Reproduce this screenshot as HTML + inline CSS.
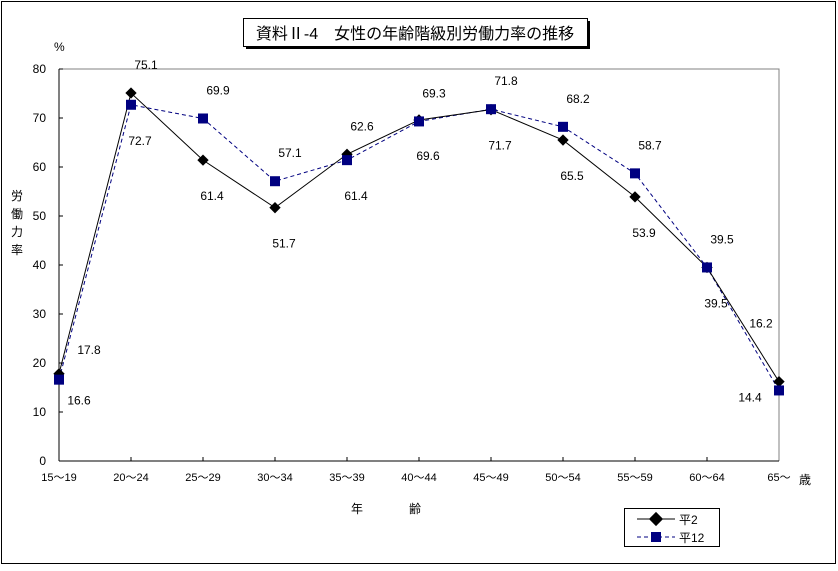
<!DOCTYPE html>
<html><head><meta charset="utf-8"><style>
body{margin:0;background:#fff;}
svg text{font-family:"Liberation Sans","Noto Sans CJK JP",sans-serif;}
</style></head><body>
<svg id="chart" width="838" height="566" xmlns="http://www.w3.org/2000/svg">
<rect x="1.5" y="1.5" width="834" height="562" fill="#fff" stroke="#000" stroke-width="1"/>
<g>
<rect x="246" y="21" width="344" height="28" fill="#000"/>
<rect x="243.5" y="18.5" width="344" height="28" fill="#fff" stroke="#000"/>
<text x="415" y="39" font-size="16" text-anchor="middle">資料Ⅱ-4　女性の年齢階級別労働力率の推移</text>
</g>
<text x="54" y="51" font-size="12">%</text>
<text font-size="12" text-anchor="middle"><tspan x="17" y="200">労</tspan><tspan x="17" y="218">働</tspan><tspan x="17" y="236">力</tspan><tspan x="17" y="254">率</tspan></text>
<text x="351" y="513" font-size="12">年</text>
<text x="409" y="513" font-size="12">齢</text>
<text x="799" y="484" font-size="12">歳</text>
<g id="plot"></g>
<g>
<rect x="624.5" y="508.5" width="95" height="38" fill="#fff" stroke="#000"/>
<line x1="637" y1="519" x2="675" y2="519" stroke="#000"/>
<rect x="651" y="514" width="10" height="10" fill="#000" transform="rotate(45 656 519)"/>
<text x="679" y="524" font-size="12">平2</text>
<line x1="637" y1="537" x2="675" y2="537" stroke="#000080" stroke-dasharray="4,3"/>
<rect x="651" y="532" width="10" height="10" fill="#000080"/>
<text x="679" y="542" font-size="12">平12</text>
</g>
</svg>
<script>
const categories=["15～19","20～24","25～29","30～34","35～39","40～44","45～49","50～54","55～59","60～64","65～"];
const seriesH2=[17.8,75.1,61.4,51.7,62.6,69.6,71.7,65.5,53.9,39.5,16.2];
const seriesH12=[16.6,72.7,69.9,57.1,61.4,69.3,71.8,68.2,58.7,39.5,14.4];
const yTicks=[0,10,20,30,40,50,60,70,80];
const X0=59,X1=779,Y0=461,Y1=69;
const xs=i=>X0+i*(X1-X0)/(categories.length-1);
const ys=v=>Y0-(v/80)*(Y0-Y1);
const NS="http://www.w3.org/2000/svg";
const g=document.getElementById('plot');
function mk(t,a){const e=document.createElementNS(NS,t);for(const k in a)e.setAttribute(k,a[k]);g.appendChild(e);return e;}
let e=mk('polyline',{points:`${X0},${Y1} ${X1},${Y1} ${X1},${Y0}`,fill:'none',stroke:'#808080'});


e=mk('line',{x1:X0,y1:Y1,x2:X0,y2:Y0,stroke:'#000'});


e=mk('line',{x1:X0,y1:Y0,x2:X1,y2:Y0,stroke:'#000'});


yTicks.forEach(v=>{
 mk('line',{x1:X0,y1:ys(v),x2:X0+4,y2:ys(v),stroke:'#000'});
 const t=mk('text',{x:X0-13,y:ys(v)+4,'font-size':12,'text-anchor':'end'});t.textContent=v;
 
 
});
categories.forEach((c,i)=>{
 if(i>0&&i<categories.length-1)mk('line',{x1:xs(i),y1:Y0,x2:xs(i),y2:Y0-4,stroke:'#000'});
 const t=mk('text',{x:xs(i),y:Y0+20,'font-size':11,'text-anchor':'middle'});t.textContent=c;
 
 
});
e=mk('polyline',{points:seriesH12.map((v,i)=>xs(i)+','+ys(v)).join(' '),fill:'none',stroke:'#000080','stroke-dasharray':'4,3'});


e=mk('polyline',{points:seriesH2.map((v,i)=>xs(i)+','+ys(v)).join(' '),fill:'none',stroke:'#000'});


seriesH2.forEach((v,i)=>{
 const m=mk('rect',{x:xs(i)-4,y:ys(v)-4,width:8,height:8,fill:'#000',transform:`rotate(45 ${xs(i)} ${ys(v)})`});
 
 
});
seriesH12.forEach((v,i)=>{
 const m=mk('rect',{x:xs(i)-5,y:ys(v)-5,width:10,height:10,fill:'#000080'});
 
 
});
const last=categories.length-1;
function label(v,i,up){
 let dx=up?15:9;
 if(i===0)dx=up?30:20;
 if(i===last)dx=up?-18:-29;
 let dy=up?-24:40;
 if(i===0)dy=up?-20:25;
 if(i===last)dy=up?-54:11;
 const t=mk('text',{x:xs(i)+dx,y:ys(v)+dy,'font-size':12,'text-anchor':'middle'});
 t.textContent=v.toFixed(1);
 
 
}
categories.forEach((c,i)=>{
 const a=seriesH2[i],b=seriesH12[i];
 const h12up=b>=a-0.5;
 label(a,i,!h12up);
 label(b,i,h12up);
});
</script>
</body></html>
